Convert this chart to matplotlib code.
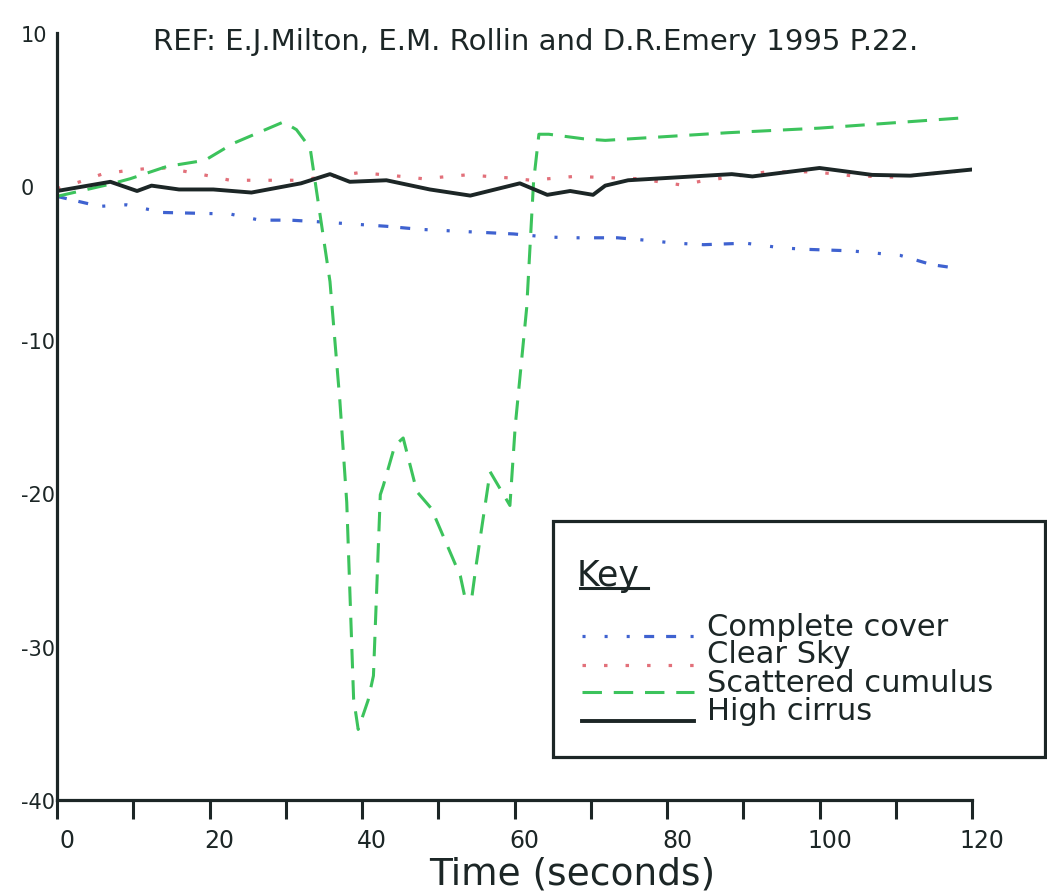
import matplotlib
matplotlib.use("Agg")
import matplotlib.pyplot as plt
from matplotlib.lines import Line2D
from matplotlib.patches import Rectangle
from matplotlib.transforms import ScaledTranslation

plt.rcParams['font.family'] = ['DejaVu Sans']
plt.rcParams['lines.scale_dashes'] = False

# data
t_complete = [0, 3, 5.6, 9.1, 13.9, 22.7, 26.6, 30.6, 34.1, 43.2, 47.6, 59.9, 64.3, 67.8,
              73.5, 77, 81.1, 84.8, 90.3, 94.9, 98.1, 104.1, 110.6, 114.7, 118.2]
v_complete = [-0.65, -1.0, -1.3, -1.2, -1.7, -1.8, -2.2, -2.2, -2.3, -2.6, -2.8, -3.1, -3.3, -3.35,
              -3.35, -3.5, -3.7, -3.8, -3.7, -4.0, -4.1, -4.2, -4.5, -5.1, -5.35]

t_clear = [0, 3, 5.9, 8.7, 11.5, 14.4, 19.8, 22.7, 31.2, 36.9, 39.7, 45.2, 48, 53.7, 59.4,
           62.2, 67.8, 76.3, 79, 81.8, 84.6, 90.3, 93.1, 98.6, 101.3, 104.1, 106.9, 109.9, 118.4]
v_clear = [-0.15, 0.3, 0.8, 1.0, 1.15, 1.2, 0.7, 0.4, 0.4, 0.7, 0.9, 0.65, 0.5, 0.75, 0.55,
           0.4, 0.65, 0.5, 0.3, 0.1, 0.35, 0.75, 0.95, 0.95, 0.85, 0.7, 0.65, 0.6, 1.0]

t_scattered = [0, 7, 9.6, 14.4, 19.4, 23.1, 29.7, 31.4, 33.2, 35.8, 37.1, 38.0, 38.9, 39.5,
               40.8, 41.5, 42.4, 42.8, 44.3, 45.4, 47.2, 49.1, 52.9, 53.5, 54.4, 55, 56.8,
               59.4, 60.1, 61.6, 62.5, 63.2, 64.5, 69.1, 71.9, 88, 100, 119.7]
v_scattered = [-0.65, 0.15, 0.5, 1.3, 1.7, 2.8, 4.2, 3.7, 2.5, -6.2, -14.0, -20.6, -33.4, -35.4,
               -33.5, -31.9, -20.1, -19.5, -16.9, -16.4, -19.9, -21.0, -25.4, -26.8, -26.8, -24.6, -18.6,
               -20.8, -15.6, -7.9, 0.3, 3.4, 3.4, 3.1, 3.0, 3.5, 3.8, 4.5]

t_cirrus = [0, 7, 10.5, 12.4, 16, 20.5, 25.5, 32, 35.8, 38.4, 43.2, 48.9, 54.2, 60.7, 64.3,
            67.3, 70.3, 71.9, 74.9, 88.5, 91.2, 100, 106.9, 111.9, 120]
v_cirrus = [-0.3, 0.3, -0.3, 0.05, -0.2, -0.2, -0.4, 0.2, 0.8, 0.3, 0.4, -0.2, -0.6, 0.2, -0.55,
            -0.3, -0.55, 0.05, 0.4, 0.8, 0.65, 1.2, 0.75, 0.7, 1.1]

labels = ['Complete cover', 'Clear Sky', 'Scattered cumulus', 'High cirrus']

x_ticks = [0, 10, 20, 30, 40, 50, 60, 70, 80, 90, 100, 110, 120]
x_tick_labels = ['0', '', '20', '', '40', '', '60', '', '80', '', '100', '', '120']
y_ticks = [10, 0, -10, -20, -30, -40]

W, H = 1047, 895
ink = '#1c2626'
blue = '#3f62d0'
red = '#e2707a'
green = '#3cc35c'

blue_ls = (0, (7.2, 8.6, 7.2, 10.4, 2.2, 13.7, 2.2, 13.7, 2.2, 10.4))
red_ls = (0, (2.5, 13.0))
green_ls = (0, (14.0, 8.5))

fig = plt.figure(figsize=(W / 100, H / 100), dpi=100)
ax = fig.add_axes([57 / W, 1 - 801 / H, 915 / W, 767 / H])

ax.plot(t_complete, v_complete, color=blue, lw=2.3, linestyle=blue_ls, dash_capstyle='butt')
ax.plot(t_clear, v_clear, color=red, lw=2.3, linestyle=red_ls, dash_capstyle='butt')
ax.plot(t_scattered, v_scattered, color=green, lw=2.2, linestyle=green_ls, dash_capstyle='butt')
ax.plot(t_cirrus, v_cirrus, color=ink, lw=2.8)

ax.set_xlim(0, 120)
ax.set_ylim(-40, 10)
ax.spines['top'].set_visible(False)
ax.spines['right'].set_visible(False)
for s in ['left', 'bottom']:
    ax.spines[s].set_linewidth(2.3)
    ax.spines[s].set_color(ink)

ax.set_xticks(x_ticks)
ax.set_xticklabels(x_tick_labels)
ax.set_yticks(y_ticks)
ax.set_yticklabels([str(v) for v in y_ticks])
ax.tick_params(axis='x', direction='out', length=14, width=2.2, color=ink, pad=6,
               labelsize=17, labelcolor=ink)
ax.tick_params(axis='y', length=0, pad=26, labelsize=15, labelcolor=ink)
shift = ScaledTranslation(10 / 100, 0, fig.dpi_scale_trans)
for lab in ax.get_xticklabels():
    lab.set_transform(lab.get_transform() + shift)
for lab in ax.get_yticklabels():
    lab.set_horizontalalignment('left')

fig.text(572 / W, 1 - 875 / H, 'Time (seconds)', fontsize=27, color=ink,
         ha='center', va='center')
fig.text(536 / W, 1 - 42 / H, 'REF: E.J.Milton, E.M. Rollin and D.R.Emery 1995 P.22.',
         fontsize=21, color=ink, ha='center', va='center')

# key box
fig.add_artist(Rectangle((553 / W, 1 - 758 / H), (1045 - 553) / W, (758 - 522) / H,
                         transform=fig.transFigure, fill=False, lw=2.3, edgecolor=ink))
fig.text(577 / W, 1 - 586 / H, 'Key', fontsize=25, color=ink, ha='left', va='baseline')
fig.add_artist(Line2D([580 / W, 648 / W], [1 - 589 / H, 1 - 589 / H],
                      transform=fig.transFigure, color=ink, lw=2.2))

handle_styles = [(blue, (33.4, blue_ls[1]), 2.3),
                 (red, red_ls, 2.3),
                 (green, green_ls, 2.2),
                 (ink, '-', 2.8)]
handle_y = [637, 666, 693, 722]
text_y = [628, 655, 683, 712]
for (c, ls, lw), hy, ty, lab in zip(handle_styles, handle_y, text_y, labels):
    fig.add_artist(Line2D([582 / W, 694 / W], [1 - hy / H, 1 - hy / H],
                          transform=fig.transFigure, color=c, lw=lw, linestyle=ls,
                          dash_capstyle='butt'))
    fig.text(707 / W, 1 - ty / H, lab, fontsize=22, color=ink, ha='left', va='center')

fig.savefig('out.png', dpi=100)
